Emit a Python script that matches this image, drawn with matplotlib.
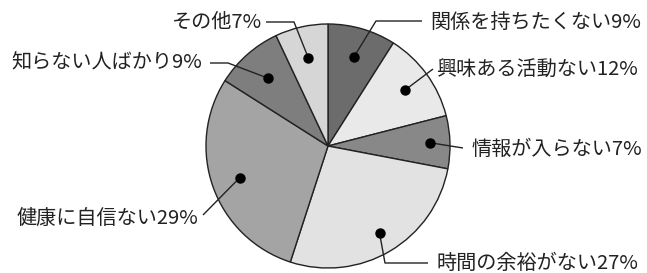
import numpy as np
import matplotlib
matplotlib.use("Agg")
import matplotlib.pyplot as plt

plt.rcParams['font.family'] = ['Noto Sans CJK JP', 'DejaVu Sans']

# Data
labels = ['関係を持ちたくない', '興味ある活動ない', '情報が入らない', '時間の余裕がない',
          '健康に自信ない', '知らない人ばかり', 'その他']
values = [9, 12, 7, 27, 29, 9, 7]
colors = ['#6c6c6c', '#e9e9e9', '#888888', '#e2e2e2', '#a4a4a4', '#7e7e7e', '#d6d6d6']

W, H = 647, 273
fig = plt.figure(figsize=(W / 100, H / 100), dpi=100)
ax = fig.add_axes([0, 0, 1, 1])

cx, cy, R = 328, H - 146, 122
wedges, _ = ax.pie(values, colors=colors, startangle=90, counterclock=False,
                   center=(cx, cy), radius=R,
                   wedgeprops=dict(edgecolor='#222222', linewidth=1.0))
ax.set_xlim(0, W)
ax.set_ylim(0, H)
ax.set_aspect('equal')
ax.axis('off')

# layout: dot radius fraction, leader path (elbow/end in pixel coords), text anchor
dot_frac = [0.76, 0.78, 0.84, 0.83, 0.77, 0.74, 0.74]
leaders = [
    [(376, 21), (422, 21)],
    [(433, 69)],
    [(463, 148)],
    [(385, 263), (428, 263)],
    [(203, 215)],
    [(228, 63), (210, 63)],
    [(294, 22), (266, 22)],
]
text_pos = [
    (430, 22, 'left'),
    (436, 70, 'left'),
    (472, 149, 'left'),
    (436, 263, 'left'),
    (198, 218, 'right'),
    (202, 63, 'right'),
    (262, 22, 'right'),
]

for w, lab, v, f, pts, (tx, ty, ha) in zip(wedges, labels, values, dot_frac, leaders, text_pos):
    mid = np.deg2rad((w.theta1 + w.theta2) / 2)
    dx = cx + R * f * np.cos(mid)
    dy = cy + R * f * np.sin(mid)
    xs = [dx] + [p[0] for p in pts]
    ys = [dy] + [H - p[1] for p in pts]
    ax.plot(xs, ys, color='#222222', lw=1.0, solid_capstyle='butt', zorder=3)
    ax.plot([dx], [dy], 'o', color='black', ms=6.5, zorder=4)
    ax.text(tx, H - ty, f'{lab}{v}%', ha=ha, va='center', fontsize=14.5, color='#222222')

fig.savefig('out.png', dpi=100, facecolor='white')
